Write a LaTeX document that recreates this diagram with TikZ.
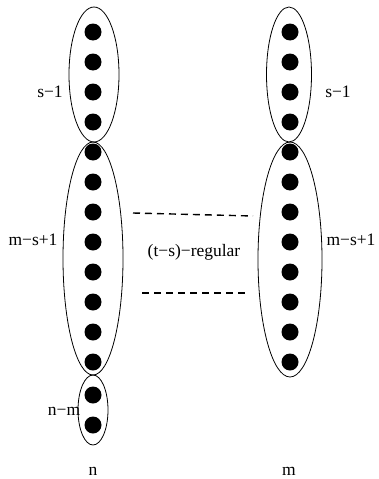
\documentclass[tikz,border=0pt]{standalone}
\usepackage{fontspec}
\setmainfont{Liberation Serif}
\usetikzlibrary{positioning}
\tikzset{
    vertexNode/.style={
        circle,
        fill=black,
        inner sep=0pt,
        minimum size=17pt
    },
    partLabel/.style={
        inner sep=0pt,
        font=\fontsize{17.5}{20}\selectfont
    },
    groupLine/.style={
        line width=0.8pt
    },
    edgeDash/.style={
        line width=1.4pt,
        dash pattern=on 7pt off 5pt
    }
}

\begin{document}
\begin{tikzpicture}[x=1pt, y=-1pt]
            \useasboundingbox (0,0) rectangle (378,479);

            % Vertices of the left side
            \foreach \k in {1,...,12}
                \node[vertexNode] (L\k) at (93,{2+30*\k}) {};
            \node[vertexNode] (L13) at (93,395) {};
            \node[vertexNode] (L14) at (93,425) {};

            % Vertices of the right side
            \foreach \k in {1,...,12}
                \node[vertexNode] (R\k) at (290,{2+30*\k}) {};

            % Parts
            \draw[groupLine] (94,74.5) ellipse (25 and 67.5);
            \draw[groupLine] (93,258.5) ellipse (30 and 116.5);
            \draw[groupLine] (93,410) ellipse (15 and 35);
            \draw[groupLine] (289,74.5) ellipse (22.5 and 67.5);
            \draw[groupLine] (290,259.5) ellipse (32 and 117.5);

            % Part sizes
            \node[partLabel] (topL) at (50,92) {s−1};
            \node[partLabel] (midL) at (33,240) {m−s+1};
            \node[partLabel] (botL) at (64,411) {n−m};
            \node[partLabel] (topR) at (338,92) {s−1};
            \node[partLabel] (midR) at (351,240) {m−s+1};

            % Side names
            \node[partLabel] (sideN) at (93,471) {n};
            \node[partLabel] (sideM) at (289,471) {m};

            % Edges between the middle parts
            \coordinate (eA) at (133,213);
            \coordinate (eB) at (253,216);
            \coordinate (eC) at (142,293);
            \coordinate (eD) at (245,293);
            \draw[edgeDash] (eA) -- (eB);
            \draw[edgeDash] (eC) -- (eD);
            \node[partLabel] (reg) at (194,252) {(t−s)−regular};
        \end{tikzpicture}
\end{document}
